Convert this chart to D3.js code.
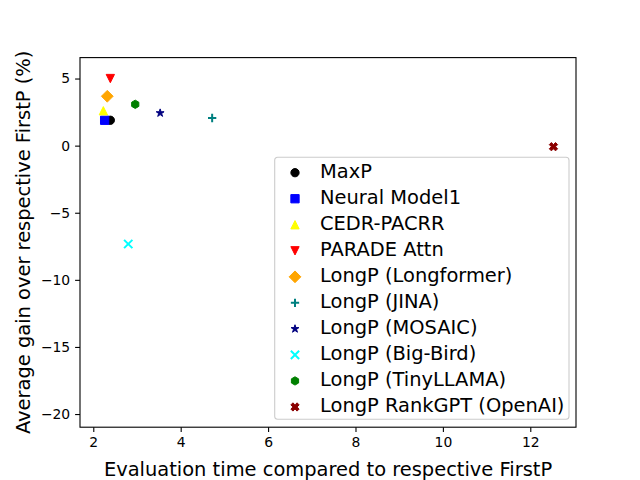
<!DOCTYPE html>
<html>
<head>
<meta charset="utf-8">
<script src="https://cdn.jsdelivr.net/npm/d3@7/dist/d3.min.js"></script>
<style>
    body { margin: 0; background: #fff; }
    text { font-family: "DejaVu Sans", sans-serif; fill: #000; }
</style>
</head>
<body>
<div id="graphic"></div>
<script>
// Chart data
var models = ['MaxP', 'Neural Model1', 'CEDR-PACRR', 'PARADE Attn', 'LongP (Longformer)',
    'LongP (JINA)', 'LongP (MOSAIC)', 'LongP (Big-Bird)', 'LongP (TinyLLAMA)', 'LongP RankGPT (OpenAI)'];
var evalTime = [2.39, 2.26, 2.23, 2.39, 2.32, 4.72, 3.53, 2.80, 2.96, 12.53];
var gain = [1.89, 1.89, 2.60, 5.00, 3.68, 2.06, 2.43, -7.33, 3.08, -0.08];
var markers = ['o', 's', '^', 'v', 'D', '+', '*', 'x', 'h', 'X'];
var colors = ['#000000', '#0000ff', '#ffff00', '#ff0000', '#ffa500',
    '#008080', '#000080', '#00ffff', '#008000', '#8b0000'];

var xTicks = [2, 4, 6, 8, 10, 12];
var yTicks = [-20, -15, -10, -5, 0, 5];

var xLabel = 'Evaluation time compared to respective FirstP';
var yLabel = 'Average gain over respective FirstP (%)';

/*
 * Marker paths, centred on 0,0 (matplotlib style shapes)
 */
var markerPath = function(m, ms) {
    var r = ms / 2;
    var p = d3.path();
    var i, a, pts;
    if (m == 'o') {
        p.arc(0, 0, r, 0, 2 * Math.PI);
    } else if (m == 's') {
        p.rect(-r, -r, 2 * r, 2 * r);
    } else if (m == '^' || m == 'v') {
        var s = (m == '^') ? 1 : -1;
        p.moveTo(0, -r * s);
        p.lineTo(r, r * s);
        p.lineTo(-r, r * s);
        p.closePath();
    } else if (m == 'D') {
        var d = r * Math.SQRT2;
        p.moveTo(0, -d); p.lineTo(d, 0); p.lineTo(0, d); p.lineTo(-d, 0);
        p.closePath();
    } else if (m == '+') {
        p.moveTo(-r, 0); p.lineTo(r, 0);
        p.moveTo(0, -r); p.lineTo(0, r);
    } else if (m == 'x') {
        p.moveTo(-r, -r); p.lineTo(r, r);
        p.moveTo(-r, r); p.lineTo(r, -r);
    } else if (m == '*') {
        for (i = 0; i < 10; i++) {
            a = -Math.PI / 2 + i * Math.PI / 5;
            var rr = (i % 2 == 0) ? r : r * 0.381966;
            if (i == 0) p.moveTo(rr * Math.cos(a), rr * Math.sin(a));
            else p.lineTo(rr * Math.cos(a), rr * Math.sin(a));
        }
        p.closePath();
    } else if (m == 'h') {
        for (i = 0; i < 6; i++) {
            a = -Math.PI / 2 + i * Math.PI / 3;
            if (i == 0) p.moveTo(r * Math.cos(a), r * Math.sin(a));
            else p.lineTo(r * Math.cos(a), r * Math.sin(a));
        }
        p.closePath();
    } else if (m == 'X') {
        pts = [[0.25, 0], [0.5, 0.25], [0.75, 0], [1, 0.25], [0.75, 0.5], [1, 0.75],
            [0.75, 1], [0.5, 0.75], [0.25, 1], [0, 0.75], [0.25, 0.5], [0, 0.25]];
        pts.forEach(function(q, j) {
            var px = (q[0] - 0.5) * ms, py = (q[1] - 0.5) * ms;
            if (j == 0) p.moveTo(px, py); else p.lineTo(px, py);
        });
        p.closePath();
    }
    return p.toString();
};

var isLine = function(m) { return m == '+' || m == 'x'; };

var drawMarker = function(sel, m, color, ms) {
    sel.append('path')
        .attr('d', markerPath(m, ms))
        .attr('fill', isLine(m) ? 'none' : color)
        .attr('stroke', color)
        .attr('stroke-width', isLine(m) ? 2 : 1);
};

var render = function() {
    var width = 640, height = 480;
    // matplotlib default subplot box
    var margins = { top: 57.6, right: 64, bottom: 52.8, left: 80 };
    var chartWidth = width - margins.left - margins.right;
    var chartHeight = height - margins.top - margins.bottom;
    var ms = 8.3;

    var containerElement = d3.select('#graphic');
    containerElement.html('');

    var svg = containerElement.append('svg')
        .attr('width', width)
        .attr('height', height);

    var chartElement = svg.append('g')
        .attr('transform', 'translate(' + margins.left + ',' + margins.top + ')');

    var xScale = d3.scaleLinear().domain([1.696, 13.046]).range([0, chartWidth]);
    var yScale = d3.scaleLinear().domain([-20.98, 6.56]).range([chartHeight, 0]);

    var fmt = function(d) { return d < 0 ? '\u2212' + Math.abs(d) : String(d); };

    // Axes
    var xAxis = chartElement.append('g')
        .attr('transform', 'translate(0,' + chartHeight + ')')
        .call(d3.axisBottom(xScale).tickValues(xTicks).tickFormat(fmt).tickSizeInner(4.9).tickSizeOuter(0).tickPadding(4.9));
    var yAxis = chartElement.append('g')
        .call(d3.axisLeft(yScale).tickValues(yTicks).tickFormat(fmt).tickSizeInner(4.9).tickSizeOuter(0).tickPadding(4.9));

    [xAxis, yAxis].forEach(function(ax) {
        ax.select('.domain').remove();
        ax.selectAll('line').attr('stroke', '#000').attr('stroke-width', 1.1);
        ax.selectAll('text')
            .style('font-family', '"DejaVu Sans", sans-serif')
            .style('font-size', '13.9px')
            .attr('fill', '#000');
    });
    xAxis.selectAll('text').attr('dy', '0.75em');

    // Points
    var points = chartElement.append('g').attr('class', 'points');
    models.forEach(function(name, i) {
        var g = points.append('g')
            .attr('transform', 'translate(' + xScale(evalTime[i]) + ',' + yScale(gain[i]) + ')');
        drawMarker(g, markers[i], colors[i], ms);
    });

    // Frame
    chartElement.append('rect')
        .attr('width', chartWidth)
        .attr('height', chartHeight)
        .attr('fill', 'none')
        .attr('stroke', '#000')
        .attr('stroke-width', 1.1);

    // Legend
    var legend = chartElement.append('g')
        .attr('class', 'legend')
        .attr('transform', 'translate(' + (274.7 - margins.left) + ',' + (157.3 - margins.top) + ')');

    legend.append('rect')
        .attr('width', 294.3)
        .attr('height', 262)
        .attr('rx', 3)
        .attr('fill', '#fff')
        .attr('fill-opacity', 0.8)
        .attr('stroke', '#cccccc')
        .attr('stroke-width', 1.1);

    var rowStart = 13.4, rowStep = 26.03;
    models.forEach(function(name, i) {
        var row = legend.append('g')
            .attr('transform', 'translate(0,' + (rowStart + i * rowStep) + ')');
        var mk = row.append('g').attr('transform', 'translate(20.3,2)');
        drawMarker(mk, markers[i], colors[i], ms);
        row.append('text')
            .attr('x', 45.3)
            .attr('y', 7)
            .style('font-size', '19.44px')
            .text(name);
    });

    // Axis labels
    svg.append('text')
        .attr('x', margins.left + chartWidth / 2)
        .attr('y', 475.5)
        .attr('text-anchor', 'middle')
        .style('font-size', '19.44px')
        .text(xLabel);

    svg.append('text')
        .attr('transform', 'translate(30,' + (margins.top + chartHeight / 2) + ') rotate(-90)')
        .attr('text-anchor', 'middle')
        .style('font-size', '19.44px')
        .text(yLabel);
};

render();
</script>
</body>
</html>
